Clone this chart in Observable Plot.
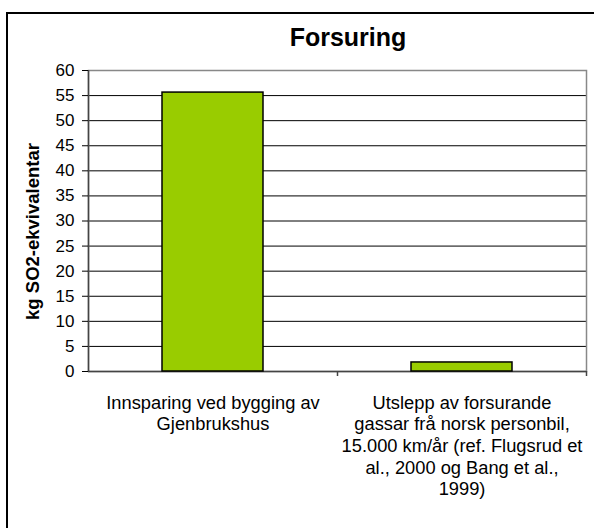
<!DOCTYPE html>
<html><head><meta charset="utf-8">
<script src="https://cdn.jsdelivr.net/npm/d3@7"></script>
<script src="https://cdn.jsdelivr.net/npm/@observablehq/plot@0.6"></script>
<style>
body{margin:0;background:#fff;}
#wrap{position:relative;width:594px;height:528px;overflow:hidden;background:#fff;font-family:"Liberation Sans",Arial,sans-serif;}
#border{position:absolute;left:6px;top:12px;width:640px;height:600px;border-left:2px solid #000;border-top:2px solid #000;}
#title{position:absolute;left:248px;width:200px;top:24px;text-align:center;font-weight:bold;font-size:25px;line-height:26px;color:#000;}
#chart{position:absolute;left:0;top:0;}
</style>
</head><body>
<div id="wrap"><div id="border"></div><div id="chart"></div><div id="title">Forsuring</div></div>
<script>
const categories = [
  "Innsparing ved bygging av\nGjenbrukshus",
  "Utslepp av forsurande\ngassar frå norsk personbil,\n15.000 km/år (ref. Flugsrud et\nal., 2000 og Bang et al.,\n1999)"
];
const values = [55.6, 1.8];
const yTicks = [0,5,10,15,20,25,30,35,40,45,50,55,60];
const yLabel = "kg SO2-ekvivalentar";

const data = categories.map((c, i) => ({cat: c, value: values[i]}));

const chart = Plot.plot({
  width: 594,
  height: 528,
  marginLeft: 88,
  marginTop: 70,
  marginRight: 8,
  marginBottom: 157,
  style: {fontFamily: '"Liberation Sans", Arial, sans-serif', background: "transparent", color: "#000"},
  x: {type: "band", domain: categories, padding: 0},
  y: {domain: [0, 60]},
  marks: [
    Plot.gridY(yTicks, {stroke: "#000", strokeOpacity: 1, strokeWidth: 1}),
    Plot.frame({stroke: "#888", strokeWidth: 1.5}),
    Plot.ruleY([0], {stroke: "#444", strokeWidth: 1.5}),
    Plot.ruleX([0], {x: () => categories[0], dx: -124.5, y1: 0, y2: 60, stroke: "#444", strokeWidth: 1.5}),
    Plot.barY(data, {x: "cat", y: "value", fill: "#99cc00", stroke: "#000", strokeWidth: 1.5, insetLeft: 74, insetRight: 74}),
    Plot.ruleX(categories, {x: d => d, dx: 124.5, y1: 0, y2: 0, insetBottom: -5, stroke: "#444", strokeWidth: 1.5}),
    Plot.axisY({ticks: yTicks, tickSize: 6, tickPadding: 8, fontSize: 17, tickFormat: d => String(d), label: null}),
    Plot.text([yLabel], {frameAnchor: "left", textAnchor: "middle", lineAnchor: "middle", rotate: -90, dx: -55, dy: 10.5, fontSize: 18.5, fontWeight: "bold", fill: "#000"}),
    Plot.axisX({tickSize: 0, tickPadding: 22, fontSize: 18.3, lineHeight: 1.18, label: null})
  ]
});
document.getElementById("chart").appendChild(chart);
</script>
</body></html>
